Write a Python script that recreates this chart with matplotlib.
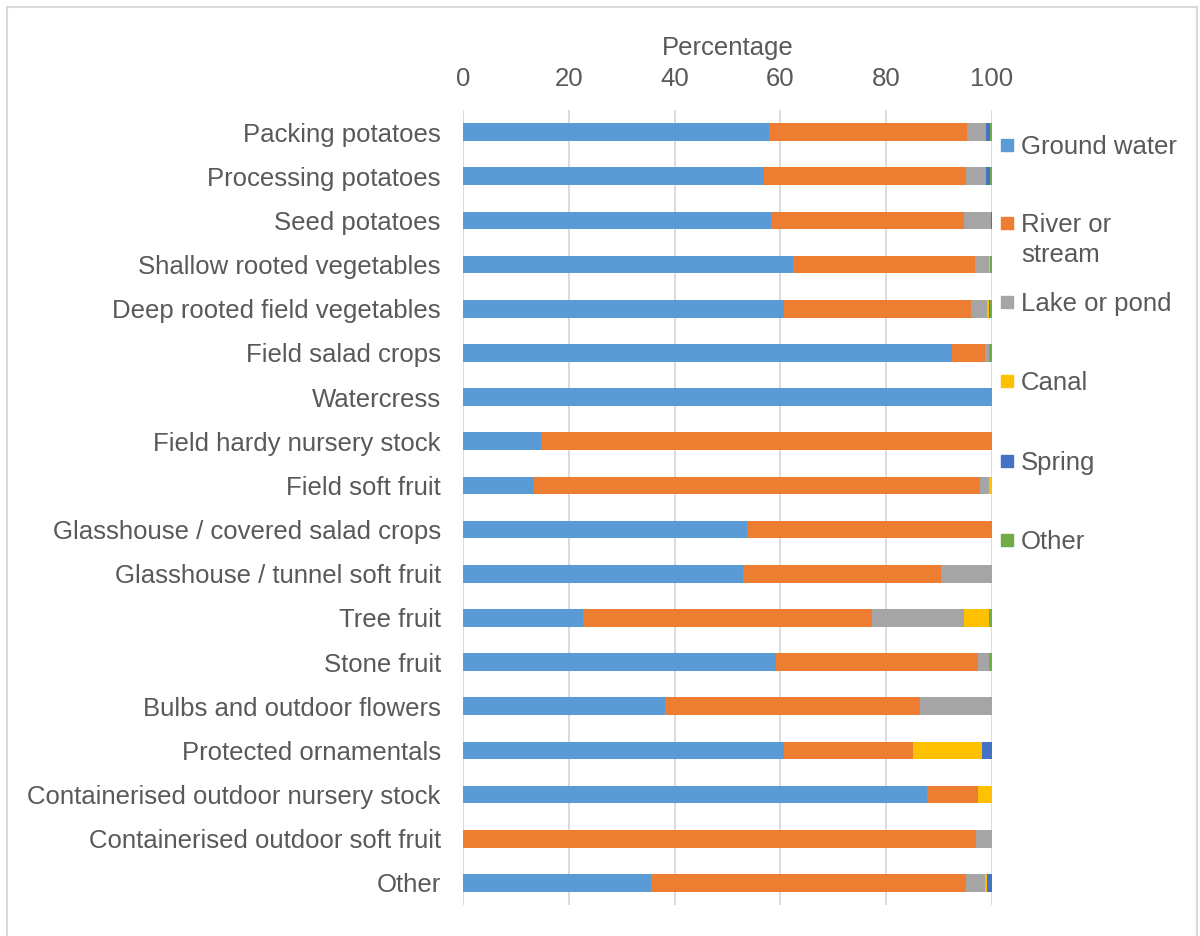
import numpy as np
import matplotlib.pyplot as plt
from matplotlib.patches import Rectangle

# crops, top to bottom
crops = [
    "Packing potatoes",
    "Processing potatoes",
    "Seed potatoes",
    "Shallow rooted vegetables",
    "Deep rooted field vegetables",
    "Field salad crops",
    "Watercress",
    "Field hardy nursery stock",
    "Field soft fruit",
    "Glasshouse / covered salad crops",
    "Glasshouse / tunnel soft fruit",
    "Tree fruit",
    "Stone fruit",
    "Bulbs and outdoor flowers",
    "Protected ornamentals",
    "Containerised outdoor nursery stock",
    "Containerised outdoor soft fruit",
    "Other",
]

sources = ["Ground water", "River or stream", "Lake or pond", "Canal", "Spring", "Other"]

# % of abstraction by water source
ground_water = [57.9, 56.9, 58.3, 62.3, 60.6, 92.4, 100.0, 14.7, 13.4, 53.6, 52.9,
                22.7, 59.2, 38.2, 60.6, 87.7, 0.0, 35.5]
river = [37.4, 38.2, 36.4, 34.4, 35.4, 6.3, 0.0, 85.3, 84.3, 46.4, 37.5,
         54.6, 38.2, 48.2, 24.4, 9.7, 97.0, 59.6]
lake = [3.5, 3.7, 5.1, 2.7, 3.1, 0.7, 0.0, 0.0, 1.7, 0.0, 9.6,
        17.4, 2.0, 13.6, 0.0, 0.0, 3.0, 3.6]
canal = [0.0, 0.0, 0.0, 0.2, 0.3, 0.0, 0.0, 0.0, 0.6, 0.0, 0.0,
         4.7, 0.0, 0.0, 13.1, 2.6, 0.0, 0.3]
spring = [0.8, 0.8, 0.2, 0.0, 0.3, 0.0, 0.0, 0.0, 0.0, 0.0, 0.0,
          0.0, 0.0, 0.0, 1.9, 0.0, 0.0, 1.0]
other = [0.4, 0.4, 0.0, 0.4, 0.3, 0.6, 0.0, 0.0, 0.0, 0.0, 0.0,
         0.6, 0.6, 0.0, 0.0, 0.0, 0.0, 0.0]

colors = ["#5B9BD5", "#ED7D31", "#A5A5A5", "#FFC000", "#4472C4", "#70AD47"]
text_col = "#595959"

plt.rcParams['font.family'] = ['Liberation Sans', 'DejaVu Sans']
fs = 18.5

fig = plt.figure(figsize=(12, 9.36), dpi=100)
ax = fig.add_axes([463 / 1200, 1 - 905 / 936, (992 - 463) / 1200, (905 - 110) / 936])

y = np.arange(len(crops))
left = np.zeros(len(crops))
series = [ground_water, river, lake, canal, spring, other]
for vals, col, name in zip(series, colors, sources):
    vals = np.array(vals)
    ax.barh(y, vals, left=left, height=0.4, color=col, label=name, zorder=3)
    left += vals

ax.set_xlim(0, 100)
ax.set_ylim(len(crops) - 0.5, -0.5)
ax.set_xticks(np.arange(0, 101, 20))
ax.set_yticks(y)
ax.set_yticklabels(crops)
ax.xaxis.tick_top()
ax.xaxis.set_label_position('top')
ax.set_xlabel("Percentage", fontsize=fs, color=text_col, labelpad=8)
ax.tick_params(axis='x', length=0, pad=14, labelsize=fs, labelcolor=text_col)
ax.tick_params(axis='y', length=0, pad=16, labelsize=fs, labelcolor=text_col)
ax.grid(axis='x', color="#D9D9D9", linewidth=1.3, zorder=0)
ax.set_axisbelow(True)
for s in ax.spines.values():
    s.set_visible(False)

# legend on the right, drawn by hand so the wrapped entry keeps Excel's spacing
leg_y = [145, 223, 302, 381, 461, 540]
leg_txt = ["Ground water", "River or\nstream", "Lake or pond", "Canal", "Spring", "Other"]
for yy, txt, col in zip(leg_y, leg_txt, colors):
    fig.patches.append(Rectangle((1001 / 1200, 1 - (yy + 6) / 936), 12 / 1200, 12 / 936,
                                 transform=fig.transFigure, color=col))
    fig.text(1021 / 1200, 1 - (yy - 10) / 936, txt, fontsize=fs, color=text_col,
             ha='left', va='top', linespacing=1.3)

# chart area outline
fig.patches.append(Rectangle((7 / 1200, -0.01), 1190 / 1200, 1 - 7 / 936 + 0.01,
                             transform=fig.transFigure, fill=False,
                             edgecolor="#D9D9D9", linewidth=1.5))

fig.savefig("out.png", dpi=100)
